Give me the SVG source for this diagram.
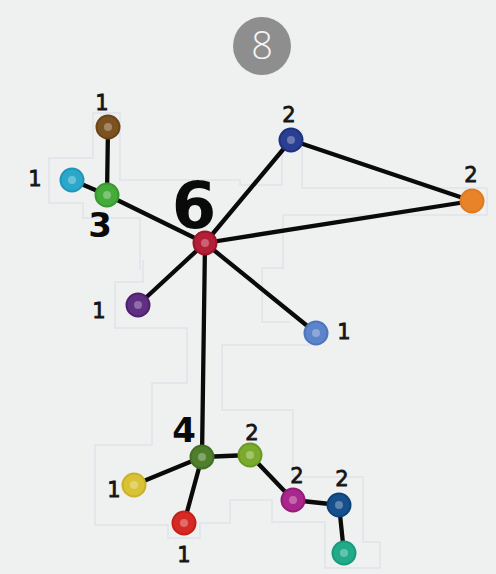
<svg xmlns="http://www.w3.org/2000/svg" width="496" height="574" viewBox="0 0 496 574">
<style>
.bg{fill:none;stroke:#dfe3e9;stroke-width:1.5}
.e{stroke:#0a0a0a;stroke-width:4.3;stroke-linecap:round}
.rim{stroke-width:2}
.dot{fill:#ffffff;fill-opacity:0.3}
.s{font-family:"DejaVu Sans",sans-serif;font-size:21px;fill:#151515;stroke:#151515;stroke-width:0.8;text-anchor:middle}
.b{font-family:"DejaVu Sans",sans-serif;font-weight:bold;fill:#0a0a0a;text-anchor:middle}
</style>
<rect width="496" height="574" fill="#eff0f0"/>
<g id="background">
<path class="bg" d="M140,270 L140,218 L83,218 L83,203 L49,203 L49,158 L93,158 L93,113 L120,113 L120,180 L240,180 L240,185 L282,185 L282,150"/>
<path class="bg" d="M302,130 L302,188 L487,188 L487,215 L283,215 L283,268 L262,268 L262,322 L290,322"/>
<path class="bg" d="M143,260 L143,282 L115,282 L115,328 L187,328 L187,383 L152,383 L152,445 L95,445 L95,525 L168,525 L168,538 L200,538 L200,523 L230,523 L230,500 L272,500 L272,522 L325,522 L325,568 L380,568 L380,542 L363,542 L363,477 L293,477 L293,410 L222,410 L222,345 L310,345"/>
</g>
<g id="badge">
<circle cx="262" cy="46" r="29" fill="#8e8e8e"/>
<text x="262" y="59" font-family="'Open Sans',sans-serif" font-weight="300" font-size="38" fill="#f4f4f4" text-anchor="middle">8</text>
</g>
<g id="connectors">
<line class="e" x1="108" y1="127" x2="107" y2="195"/>
<line class="e" x1="72" y1="180" x2="107" y2="195"/>
<line class="e" x1="107" y1="195" x2="205" y2="243"/>
<line class="e" x1="205" y1="243" x2="291" y2="140"/>
<line class="e" x1="205" y1="243" x2="472" y2="201"/>
<line class="e" x1="291" y1="140" x2="472" y2="201"/>
<line class="e" x1="205" y1="243" x2="138" y2="305"/>
<line class="e" x1="205" y1="243" x2="316" y2="333"/>
<line class="e" x1="205" y1="243" x2="202" y2="457"/>
<line class="e" x1="202" y1="457" x2="250" y2="455"/>
<line class="e" x1="202" y1="457" x2="134" y2="485"/>
<line class="e" x1="202" y1="457" x2="184" y2="523"/>
<line class="e" x1="250" y1="455" x2="293" y2="500"/>
<line class="e" x1="293" y1="500" x2="339" y2="505"/>
<line class="e" x1="339" y1="505" x2="344" y2="553"/>
</g>
<g id="n-brown"><circle class="rim" cx="108" cy="127" r="11.5" fill="#7b5322" stroke="#6a4518"/><circle class="dot" cx="108" cy="127" r="4"/><text class="s" x="102" y="110">1</text></g>
<g id="n-cyan"><circle class="rim" cx="72" cy="180" r="11.5" fill="#2ba7c9" stroke="#1f97b8"/><circle class="dot" cx="72" cy="180" r="4"/><text class="s" x="35" y="186">1</text></g>
<g id="n-green3"><circle class="rim" cx="107" cy="195" r="11.5" fill="#45ab3a" stroke="#38992e"/><circle class="dot" cx="107" cy="195" r="4"/><text class="b" x="100" y="237" font-size="34">3</text></g>
<g id="n-hub"><circle class="rim" cx="205" cy="243" r="11.5" fill="#b41f38" stroke="#9c1529"/><circle class="dot" cx="205" cy="243" r="4"/><text class="b" x="194" y="228" font-size="64">6</text></g>
<g id="n-blue-top"><circle class="rim" cx="291" cy="140" r="11.5" fill="#2b3f92" stroke="#1f3280"/><circle class="dot" cx="291" cy="140" r="4"/><text class="s" x="289" y="122">2</text></g>
<g id="n-orange"><circle class="rim" cx="472" cy="201" r="11.5" fill="#e9832a" stroke="#e07a22"/><text class="s" x="471" y="182">2</text></g>
<g id="n-purple"><circle class="rim" cx="138" cy="305" r="11.5" fill="#5e2f83" stroke="#4d2270"/><circle class="dot" cx="138" cy="305" r="4"/><text class="s" x="99" y="318">1</text></g>
<g id="n-lightblue"><circle class="rim" cx="316" cy="333" r="11.5" fill="#5b84ca" stroke="#4d76bd"/><circle class="dot" cx="316" cy="333" r="4"/><text class="s" x="344" y="339">1</text></g>
<g id="n-green4"><circle class="rim" cx="202" cy="457" r="11.5" fill="#4f7f2c" stroke="#426f22"/><circle class="dot" cx="202" cy="457" r="4"/><text class="b" x="184" y="442" font-size="34">4</text></g>
<g id="n-lightgreen"><circle class="rim" cx="250" cy="455" r="11.5" fill="#7aab2e" stroke="#6a9a24"/><circle class="dot" cx="250" cy="455" r="4"/><text class="s" x="252" y="440">2</text></g>
<g id="n-yellow"><circle class="rim" cx="134" cy="485" r="11.5" fill="#d9c233" stroke="#c9b228"/><circle class="dot" cx="134" cy="485" r="4"/><text class="s" x="114" y="497">1</text></g>
<g id="n-red"><circle class="rim" cx="184" cy="523" r="11.5" fill="#d52b24" stroke="#c4201a"/><circle class="dot" cx="184" cy="523" r="4"/><text class="s" x="184" y="562">1</text></g>
<g id="n-magenta"><circle class="rim" cx="293" cy="500" r="11.5" fill="#a9278c" stroke="#951b7a"/><circle class="dot" cx="293" cy="500" r="4"/><text class="s" x="297" y="483">2</text></g>
<g id="n-navy"><circle class="rim" cx="339" cy="505" r="11.5" fill="#16508c" stroke="#0f427a"/><circle class="dot" cx="339" cy="505" r="4"/><text class="s" x="342" y="486">2</text></g>
<g id="n-teal"><circle class="rim" cx="344" cy="553" r="11.5" fill="#22ab8a" stroke="#1a9b7a"/><circle class="dot" cx="344" cy="553" r="4"/></g>
</svg>
